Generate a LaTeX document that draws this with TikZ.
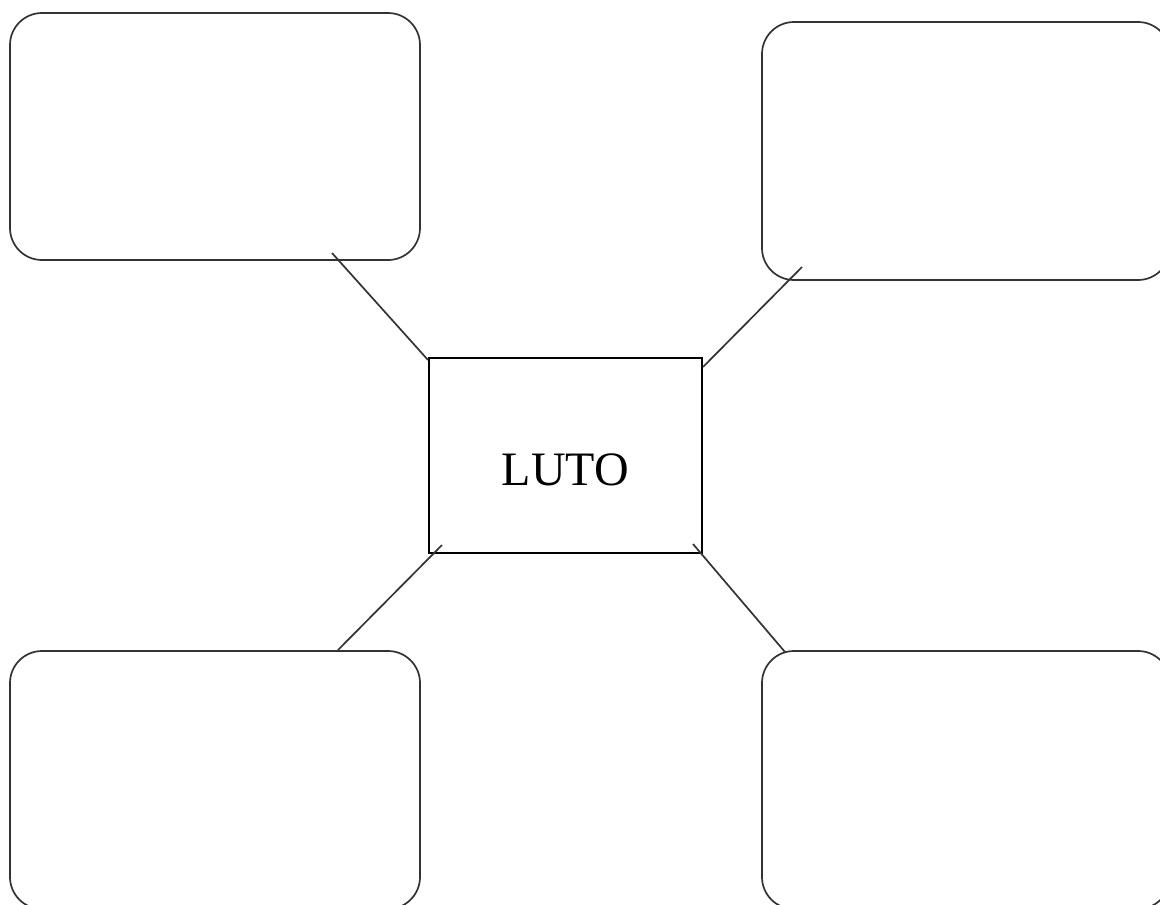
\documentclass[tikz,border=0pt]{standalone}
\usepackage{fontspec}
\setmainfont{Liberation Serif}
\usetikzlibrary{calc}
\definecolor{edgegray}{RGB}{51,51,51}

\begin{document}
\begin{tikzpicture}[x=1pt, y=-1pt,
  card/.style={draw=edgegray, line width=1.7pt, rounded corners=32pt,
    inner sep=0pt, outer sep=0pt},
  hub/.style={draw=black, line width=1.6pt, inner sep=0pt, outer sep=0pt,
    minimum width=273pt, minimum height=195pt, text height=60pt, text depth=0pt,
    font=\fontsize{48}{58}\selectfont},
  spoke/.style={draw=edgegray, line width=1.7pt}]

\clip (0,0) rectangle (1160,905);

% ---- centre box ----
\node[hub] (luto) at (565.5,455.5) {LUTO};

% ---- four empty cards ----
\node[card, minimum width=410pt, minimum height=247pt] (tl) at (215,136.5) {};
\node[card, minimum width=408pt, minimum height=258pt] (tr) at (966,151) {};
\node[card, minimum width=410pt, minimum height=258pt] (bl) at (215,780) {};
\node[card, minimum width=408pt, minimum height=258pt] (br) at (966,780) {};

% ---- spokes ----
\draw[spoke] ($(luto.north west)+(-1,2)$) -- ($(tl.south east)+(-88,-7)$);
\draw[spoke] ($(luto.north east)+(1,9)$) -- ($(tr.south west)+(40,-13)$);
\draw[spoke] ($(luto.south west)+(13,-8)$) -- ($(bl.north east)+(-82,-1)$);
\draw[spoke] ($(luto.south east)+(-9,-9)$) -- ($(br.north west)+(23,1)$);

\end{tikzpicture}
\end{document}
